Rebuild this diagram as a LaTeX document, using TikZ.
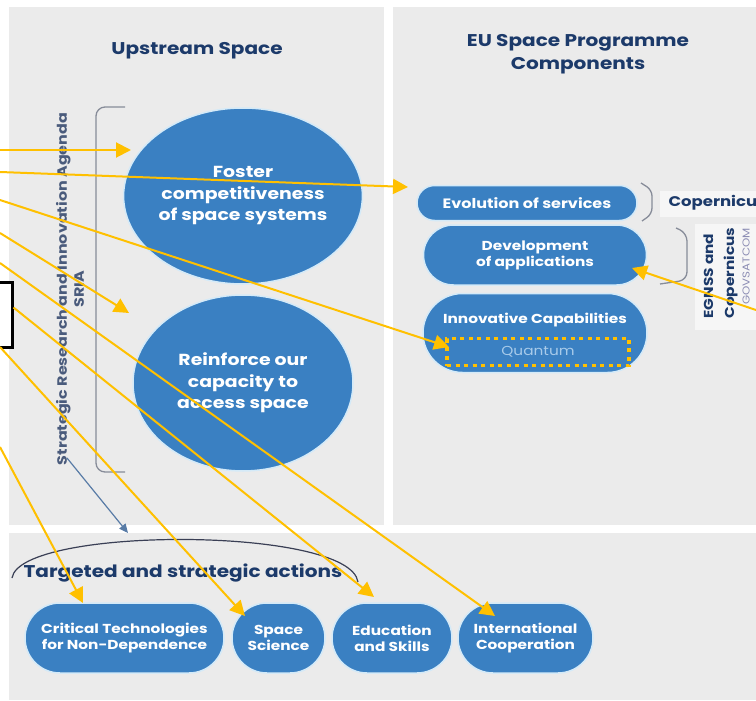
\documentclass[tikz,border=0pt]{standalone}
\usepackage{fontspec}
\setmainfont{Poppins}[FakeStretch=1.18]
\usetikzlibrary{shapes.geometric,shapes.misc,arrows.meta}
\definecolor{panelgray}{HTML}{EBEBEB}
\definecolor{labelwhite}{HTML}{F6F6F6}
\definecolor{bubbleblue}{HTML}{3A80C2}
\definecolor{haloblue}{HTML}{D4EAF8}
\definecolor{navy}{HTML}{1C3A6A}
\definecolor{gold}{HTML}{FFC000}
\definecolor{bracketgray}{HTML}{878C99}
\definecolor{sriatext}{HTML}{4A5B7C}
\definecolor{sriablue}{HTML}{587BA6}
\definecolor{quanttext}{HTML}{A8CBEA}
\definecolor{govtext}{HTML}{8C8DB4}
\definecolor{arcgray}{HTML}{3A3F55}

\begin{document}
\begin{tikzpicture}[x=1pt,y=-1pt,
    bubble/.style={ellipse, fill=bubbleblue, draw=haloblue, line width=1.5pt,
      minimum width=220pt, minimum height=176pt, inner sep=0pt, text=white,
      align=center, font=\fontsize{16}{21.5}\selectfont\bfseries},
    pill/.style={rounded rectangle, fill=bubbleblue, draw=haloblue, line width=1.5pt,
      inner sep=0pt, text=white, align=center, font=\fontsize{13}{16}\selectfont\bfseries},
    heading/.style={text=navy, align=center, font=\fontsize{17}{23}\selectfont\bfseries},
    bracket/.style={draw=bracketgray, line width=1.3pt, rounded corners=9pt},
    goldarrow/.style={draw=gold, line width=2pt, -{Triangle[length=15pt,width=15pt]}},
  ]
    \useasboundingbox (0,0) rectangle (756,701);
    \clip (0,0) rectangle (756,701);

    % Panels
    \fill[panelgray] (9,7) rectangle (384,525);   % upstream
    \fill[panelgray] (393,7) rectangle (756,525); % programme
    \fill[panelgray] (9,533) rectangle (756,700); % actions

    % Headings
    \node[heading] (upstream) at (197,51) {Upstream Space};
    \node[heading] (euprog) at (578,54) {EU Space Programme\\Components};

    % SRIA bracket
    \node[rotate=90, text=sriatext, align=center,
      font=\fontsize{13.5}{17}\selectfont\bfseries] (sria) at (70,289)
      {Strategic Research and Innovation Agenda\\SRIA};
    \draw[bracket] (125,107) -- (96,107) -- (96,472) -- (125,472);

    % Upstream objectives
    \node[bubble] (foster) at (243,196) {Foster\\competitiveness\\of space systems};
    \node[bubble] (reinforce) at (243,383) {Reinforce our\\capacity to\\access space};

    % Programme components
    \node[pill, font=\fontsize{13.6}{16}\selectfont\bfseries, minimum width=220pt, minimum height=35pt] (evol) at (527,203) {Evolution of services};
    \node[pill, minimum width=223pt, minimum height=60pt] (devel) at (535,255) {Development\\of applications};
    \node[pill, minimum width=224pt, minimum height=79pt] (innov) at (535,333) {};
    \node[text=white, font=\fontsize{13}{16}\selectfont\bfseries] (innovlbl) at (535,320) {Innovative Capabilities};
    \node[draw=gold, line width=3.5pt, dash pattern=on 4pt off 4.5pt, minimum width=182pt,
      minimum height=27pt, text=quanttext, font=\fontsize{13}{15}\selectfont] (quantum) at (538,352) {Quantum};

    \draw[bracket, rounded corners=6pt] (641,183) -- (652,190) -- (652,214) -- (642,221);
    \fill[labelwhite] (660,191) rectangle (756,217);
    \node[anchor=west, text=navy, font=\fontsize{14}{16}\selectfont\bfseries] (copernicus) at (665,203) {Copernicus};

    \draw[bracket, rounded corners=8pt] (676,228) -- (687,233) -- (687,280) -- (660,284);
    \fill[labelwhite] (695,224) rectangle (756,330);
    \node[rotate=90, anchor=north west, align=left, text=navy,
      font=\fontsize{13}{21}\selectfont\bfseries] (egnss) at (700,322) {EGNSS and\\Copernicus};
    \node[rotate=90, anchor=west, text=govtext, font=\fontsize{10}{12}\selectfont] (govsat) at (746,308) {GOVSATCOM};

    % Link down to targeted actions
    \coordinate (sriafoot) at (67,458);
    \coordinate (arcmark) at (128,533);
    \draw[draw=sriablue, line width=1.2pt, -{Triangle[length=9pt,width=8pt]}] (sriafoot) -- (arcmark);
    \draw[draw=arcgray, line width=1.2pt] (12,578) .. controls (20,526) and (350,526) .. (358,582);

    % Targeted and strategic actions
    \node[heading] (targeted) at (183,573) {Targeted and strategic actions};
    \node[pill, minimum width=199pt, minimum height=70pt] (crit) at (124.5,638) {Critical Technologies\\for Non-Dependence};
    \node[pill, minimum width=93pt, minimum height=70pt] (science) at (278.5,638) {Space\\Science};
    \node[pill, minimum width=120pt, minimum height=70pt] (edu) at (392,638) {Education\\and Skills};
    \node[pill, minimum width=135pt, minimum height=70pt] (intl) at (525.5,638) {International\\Cooperation};

    % Source box on the left edge
    \node[draw=black, fill=white, line width=3pt, minimum width=40pt, minimum height=65pt,
      inner sep=0pt] (src) at (-8,314.5) {};

    % Mapping arrows
    \coordinate (in1) at (0,150);
    \coordinate (in2) at (0,172);
    \coordinate (in3) at (0,200);
    \coordinate (in4) at (0,233);
    \coordinate (in5) at (0,263);
    \coordinate (in7) at (0,347);
    \coordinate (in8) at (0,447);
    \coordinate (in9) at (756,310);
    \coordinate (tipfoster) at (131,150);
    \coordinate (tipevol) at (408,187);
    \coordinate (tipquant) at (449,347);
    \coordinate (tipreinf) at (129,313);
    \coordinate (tipintl) at (495,616);
    \coordinate (tipedu) at (374,597);
    \coordinate (tipscience) at (245,616);
    \coordinate (tipcrit) at (83,603);
    \coordinate (tipdevel) at (632,268);

    \draw[goldarrow] (in1) -- (tipfoster);
    \draw[goldarrow] (in2) -- (tipevol);
    \draw[goldarrow] (in3) -- (tipquant);
    \draw[goldarrow] (in4) -- (tipreinf);
    \draw[goldarrow] (in5) -- (tipintl);
    \draw[goldarrow] ([yshift=7pt]src.east) -- (tipedu);
    \draw[goldarrow] (in7) -- (tipscience);
    \draw[goldarrow] (in8) -- (tipcrit);
    \draw[goldarrow] (in9) -- (tipdevel);
\end{tikzpicture}
\end{document}
